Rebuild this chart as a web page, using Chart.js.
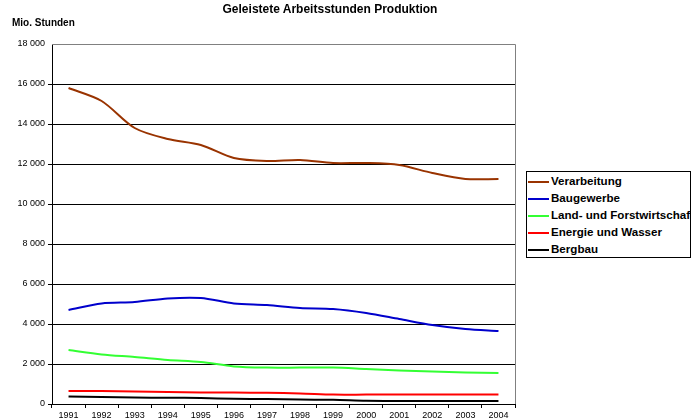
<!DOCTYPE html>
<html lang="de">
<head>
    <meta charset="UTF-8">
    <title>Geleistete Arbeitsstunden Produktion</title>
    <script src="https://cdn.jsdelivr.net/npm/chart.js"></script>
    <style>
        body { margin: 0; background: #fff; font-family: "Liberation Sans", Arial, sans-serif; }
        #wrap { position: relative; width: 693px; height: 420px; overflow: hidden; }
        #title { position: absolute; top: 2px; left: 0; width: 660px; text-align: center; font-weight: bold; font-size: 12px; }
        #unit { position: absolute; top: 17px; left: 12px; font-weight: bold; font-size: 10px; }
        #legend { position: absolute; left: 526px; top: 171px; width: 163px; height: 85px; border: 1px solid #000; overflow: hidden; background: #fff; }
        .item { height: 17px; white-space: nowrap; font-weight: bold; font-size: 11.6px; line-height: 17px; }
        .item span.swatch { display: inline-block; width: 21px; height: 2px; vertical-align: middle; margin: 0 2px 0 1px; }
        canvas { position: absolute; left: 0; top: 0; }
    </style>
</head>
<body>
<div id="wrap">
    <canvas id="chart" width="693" height="420"></canvas>
    <div id="title">Geleistete Arbeitsstunden Produktion</div>
    <div id="unit">Mio. Stunden</div>
    <div id="legend"></div>
</div>
<script>
    // Jahre
    const years = ['1991', '1992', '1993', '1994', '1995', '1996', '1997', '1998', '1999', '2000', '2001', '2002', '2003', '2004'];

    // Mio. Stunden je Bereich
    const verarbeitung = [15800, 15150, 13800, 13250, 12950, 12300, 12150, 12200, 12050, 12050, 11950, 11550, 11250, 11250];
    const baugewerbe   = [4700, 5030, 5100, 5280, 5300, 5030, 4950, 4800, 4750, 4550, 4250, 3950, 3750, 3650];
    const landForst    = [2700, 2480, 2350, 2200, 2100, 1880, 1820, 1820, 1820, 1750, 1680, 1620, 1580, 1550];
    const energie      = [650, 650, 620, 600, 570, 570, 560, 530, 470, 470, 470, 470, 470, 470];
    const bergbau      = [380, 350, 320, 310, 300, 260, 250, 220, 210, 160, 150, 150, 150, 150];

    const seriesNames  = ['Verarbeitung', 'Baugewerbe', 'Land- und Forstwirtschaft', 'Energie und Wasser', 'Bergbau'];
    const seriesData   = [verarbeitung, baugewerbe, landForst, energie, bergbau];
    const seriesColors = ['#993300', '#0000cc', '#33ff33', '#ff0000', '#000000'];

    const fmt = v => String(v).replace(/\B(?=(\d{3})+(?!\d))/g, ' ');

    const datasets = seriesNames.map((name, i) => ({
        label: name,
        data: seriesData[i],
        borderColor: seriesColors[i],
        borderWidth: 2,
        pointRadius: 0,
        tension: 0.3,
        fill: false
    }));

    // grauer Rahmen rechts/oben wie im Excel-Diagramm
    const plotBorder = {
        id: 'plotBorder',
        afterDraw(chart) {
            const a = chart.chartArea, c = chart.ctx;
            c.save();
            c.strokeStyle = '#808080';
            c.lineWidth = 1;
            c.beginPath();
            c.moveTo(a.left, a.top + 0.5);
            c.lineTo(a.right + 0.5, a.top + 0.5);
            c.lineTo(a.right + 0.5, a.bottom);
            c.stroke();
            c.restore();
        }
    };

    new Chart(document.getElementById('chart'), {
        type: 'line',
        data: { labels: years, datasets: datasets },
        options: {
            responsive: false,
            animation: false,
            layout: { padding: { left: 0, top: 44, right: 178, bottom: 0 } },
            plugins: { legend: { display: false }, title: { display: false }, tooltip: { enabled: false } },
            scales: {
                x: {
                    offset: true,
                    afterFit: s => { s.height = 16; },
                    grid: { offset: true, drawOnChartArea: false, color: '#000', tickLength: 4 },
                    border: { color: '#000' },
                    ticks: { color: '#000', padding: 2, maxRotation: 0, autoSkip: false, font: { family: 'Liberation Sans', size: 9 } }
                },
                y: {
                    min: 0,
                    max: 18000,
                    afterFit: s => { s.width = 52; },
                    grid: { color: c => c.tick && c.tick.value === 18000 ? 'rgba(0,0,0,0)' : '#000', tickLength: 4 },
                    border: { color: '#000' },
                    ticks: { stepSize: 2000, color: '#000', padding: 3, callback: fmt, font: { family: 'Liberation Sans', size: 9 } }
                }
            }
        },
        plugins: [plotBorder]
    });

    // Legende
    const legend = document.getElementById('legend');
    seriesNames.forEach((name, i) => {
        const row = document.createElement('div');
        row.className = 'item';
        const sw = document.createElement('span');
        sw.className = 'swatch';
        sw.style.background = seriesColors[i];
        row.appendChild(sw);
        row.appendChild(document.createTextNode(name));
        legend.appendChild(row);
    });
</script>
</body>
</html>
